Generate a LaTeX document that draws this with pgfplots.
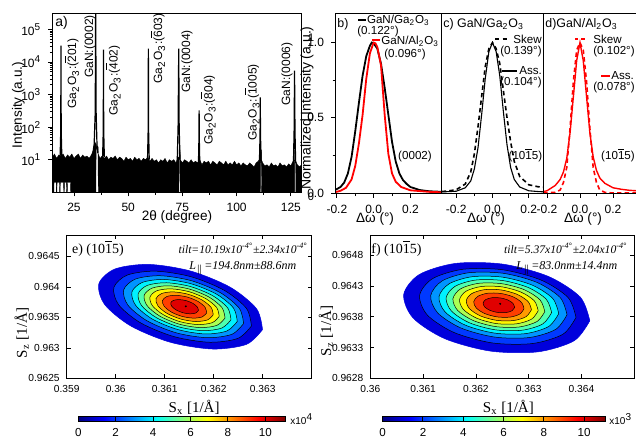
\documentclass[border=0pt]{standalone}
\usepackage{fontspec}
\setmainfont{Liberation Sans}
\newfontfamily\serif{Liberation Serif}
\usepackage{pgfplots}
\pgfplotsset{compat=1.18}
\usetikzlibrary{calc}

\newcommand\ob[1]{\ensuremath{\overline{\mbox{#1}}}}
\newcommand\fs[1]{\fontsize{#1}{#1}\selectfont}

% contour level colours (jet)
\definecolor{c1}{rgb}{0,0,0.862}
\definecolor{c2}{rgb}{0,0.224,1}
\definecolor{c3}{rgb}{0,0.586,1}
\definecolor{c4}{rgb}{0,0.948,1}
\definecolor{c5}{rgb}{0.31,1,0.69}
\definecolor{c6}{rgb}{0.672,1,0.328}
\definecolor{c7}{rgb}{1,0.966,0}
\definecolor{c8}{rgb}{1,0.604,0}
\definecolor{c9}{rgb}{1,0.242,0}
\definecolor{c10}{rgb}{0.88,0,0}

\pgfplotsset{
  org/.style={scale only axis, anchor=south west, axis on top,
    tick align=outside, xtick pos=bottom, ytick pos=left,
    major tick length=2pt, minor tick length=1.2pt,
    tick style={black, line width=0.4pt}, axis line style={line width=0.5pt},
    tick label style={font=\fs{6}}, label style={font=\fs{6.8}},
    /pgf/number format/assume math mode=true},
  mat/.style={scale only axis, anchor=south west,
    tick align=inside, major tick length=2pt,
    tick style={black, line width=0.3pt}, axis line style={line width=0.4pt},
    tick label style={font=\fs{5.1}}, label style={font=\serif\fs{7.5}},
    scaled ticks=false, colormap/jet, colorbar horizontal,
    point meta min=0, point meta max=11.05},
  cbar/.style={anchor=north west, scale only axis, height=2.4pt,
    xtick={0,2,4,6,8,10}, xticklabels={0,2,4,6,8,10},
    xticklabel pos=bottom, xtick pos=bottom, tick align=inside,
    major tick length=2.4pt, tick style={black, line width=0.5pt},
    tick label style={font=\fs{5.8}}, axis line style={line width=0.3pt}},
  cont/.style={draw=black, line width=0.25pt, smooth, fill=#1},
}

\begin{document}
\begin{tikzpicture}
\useasboundingbox (0,0) rectangle (318pt,218.5pt);

% ---------------- a) XRD scan
\begin{axis}[org, at={(26.15pt,122.35pt)}, width=124.7pt, height=89.15pt,
  xmin=15, xmax=130, ymode=log, ymin=1, ymax=3e5,
  xtick={25,50,75,100,125}, minor x tick num=1,
  ytick={10,100,1000,10000,100000},
  yticklabels={10\textsuperscript{1},10\textsuperscript{2},10\textsuperscript{3},10\textsuperscript{4},10\textsuperscript{5}},
  xlabel={2θ (degree)}, ylabel={Intensity (a.u.)},
  xlabel style={at={(axis description cs:0.5,-0.14)}, anchor=center},
  ylabel style={at={(axis description cs:-0.136,0.49)}, anchor=center}]
% noise floor
\addplot[fill=black, draw=black, line width=0.2pt] coordinates {
(15,12) (16,15) (17,11) (18,14) (19,13) (20,15) (21,11) (22,14) (23,12) (24,15)
(25,11) (26,13) (27,15) (28,11) (29,14) (30,12) (31,13) (32,11) (33,14) (34,20)
(34.6,35) (35.2,30) (36,16) (37,11) (38,13) (39,11) (40,13) (41,10) (42,12) (43,11)
(44,13) (45,10) (46,12) (47,11) (48,9) (49,12) (50,10) (51,11) (52,9) (53,12)
(54,10) (55,11) (56,9) (57,11) (58,10) (59,12) (60,9) (61,11) (62,9) (63,10)
(64,8) (65,10) (66,9) (67,11) (68,8) (69,10) (70,9) (71,10) (72,8) (73,12)
(74,10) (75,8) (76,10) (77,9) (78,8) (79,10) (80,8) (81,9) (82,8) (83,10)
(84,7) (85,9) (86,8) (87,9) (88,7) (89,9) (90,8) (91,7) (92,9) (93,8)
(94,7) (95,9) (96,7) (97,8) (98,7) (99,9) (100,7) (101,8) (102,6.5) (103,8)
(104,7) (105,6.5) (106,8) (107,7) (108,6) (109,8) (110,9) (111,12) (112,8) (113,6.5)
(114,7) (115,6) (116,8) (117,6.5) (118,7) (119,6) (120,8) (121,6.5) (122,7) (123,6)
(124,7.5) (125,6.5) (126,9) (127,10) (128,7) (129,6) (130,7)
(130,1) (127.3,1) (127.2,20) (126.8,20) (126.7,1) (111.5,1) (111.4,20) (111.0,20) (110.9,1)
(74.0,1) (73.9,20) (73.5,20) (73.4,1) (36.2,1) (36.1,25) (35.2,25) (35.1,1)
(23.5,1) (23.4,2) (22.0,2) (21.9,1) (21.6,1) (21.5,2) (20.6,2) (20.5,1) (20.3,1) (20.2,2)
(18.7,2) (18.6,1) (18.4,1) (18.3,2) (17.2,2) (17.1,1) (16.9,1) (16.8,2) (15.8,2) (15.7,1)
(15.5,1) (15.4,2) (15,2)};
% diffraction peaks
\addplot[black, line width=0.6pt] coordinates {(18.6,12) (18.9,80) (19.0,32000) (19.1,80) (19.4,12)};
\addplot[black, line width=0.6pt] coordinates {(33.6,14) (34.3,30) (34.8,300) (35.0,1e6) (35.2,300) (35.6,30) (36.0,16)};
\addplot[black, line width=0.6pt] coordinates {(38.2,12) (38.5,80) (38.6,24000) (38.7,80) (39.0,12)};
\addplot[black, line width=0.6pt] coordinates {(58.9,10) (59.2,80) (59.3,26000) (59.4,80) (59.7,10)};
\addplot[black, line width=0.6pt] coordinates {(72.6,9) (73.0,100) (73.3,26000) (73.5,100) (73.9,10)};
\addplot[black, line width=0.6pt] coordinates {(82.4,8) (82.6,40) (82.7,330) (82.8,40) (83.0,8)};
\addplot[black, line width=0.6pt] coordinates {(110.5,8) (110.8,60) (110.9,830) (111.0,60) (111.3,8)};
\addplot[black, line width=0.6pt] coordinates {(126.2,8) (126.5,80) (126.7,5500) (126.9,80) (127.2,8)};
\end{axis}

% ---------------- b) rocking curves (0002)
\begin{axis}[org, at={(167.5pt,121.6pt)}, width=53.35pt, height=89.9pt,
  xmin=-0.21, xmax=0.37, ymin=-0.005, ymax=1.19,
  xtick={-0.2,0,0.2}, xticklabels={-0.2,0.0,0.2}, minor x tick num=1,
  ytick={0,0.5,1}, yticklabels={0.0,0.5,1.0}, minor y tick num=1,
  xlabel={Δω (°)}, ylabel={Normalized Intensity (a.u.)},
  xlabel style={at={(axis description cs:0.375,-0.14)}, anchor=center},
  ylabel style={at={(axis description cs:-0.262,0.477)}, anchor=center, font=\fs{7}}]
\addplot[black, line width=0.9pt] coordinates {
(-0.21,0.02) (-0.18,0.04) (-0.16,0.07) (-0.14,0.13) (-0.12,0.24) (-0.10,0.41)
(-0.08,0.60) (-0.06,0.78) (-0.04,0.91) (-0.02,0.98) (-0.01,1.0) (0.0,0.995)
(0.02,0.96) (0.04,0.86) (0.06,0.70) (0.08,0.52) (0.10,0.34) (0.12,0.21)
(0.14,0.13) (0.16,0.085) (0.18,0.06) (0.2,0.04) (0.25,0.02) (0.3,0.012) (0.37,0.008)};
\addplot[red, line width=0.9pt] coordinates {
(-0.21,0.005) (-0.18,0.015) (-0.15,0.035) (-0.12,0.09) (-0.10,0.18) (-0.08,0.33)
(-0.06,0.52) (-0.04,0.76) (-0.02,0.93) (0.0,1.0) (0.01,0.995) (0.02,0.97)
(0.04,0.85) (0.06,0.52) (0.08,0.26) (0.10,0.13) (0.12,0.075) (0.15,0.04)
(0.2,0.018) (0.3,0.008) (0.37,0.005)};
\end{axis}

% ---------------- c) GaN/Ga2O3 (10-15)
\begin{axis}[org, at={(220.85pt,121.6pt)}, width=50.8pt, height=89.9pt,
  xmin=-0.28, xmax=0.28, ymin=-0.005, ymax=1.19,
  xtick={-0.2,0,0.2}, xticklabels={-0.2,0.0,0.2}, minor x tick num=1, ytick=\empty,
  xlabel={Δω (°)}, xlabel style={at={(axis description cs:0.436,-0.14)}, anchor=center}]
\addplot[black, line width=0.8pt, dash pattern=on 2.2pt off 1.6pt] coordinates {
(-0.28,0.01) (-0.25,0.013) (-0.2,0.022) (-0.15,0.06) (-0.12,0.14) (-0.10,0.26)
(-0.08,0.44) (-0.06,0.64) (-0.04,0.84) (-0.02,0.96) (0,1.0) (0.02,0.96)
(0.04,0.86) (0.06,0.68) (0.08,0.50) (0.10,0.34) (0.12,0.21) (0.15,0.11)
(0.2,0.055) (0.25,0.042) (0.28,0.038)};
\addplot[black, line width=0.55pt] coordinates {
(-0.28,0.008) (-0.25,0.009) (-0.2,0.012) (-0.15,0.035) (-0.12,0.08) (-0.10,0.16)
(-0.08,0.30) (-0.06,0.52) (-0.04,0.76) (-0.02,0.94) (0,1.0) (0.02,0.94)
(0.04,0.78) (0.06,0.54) (0.08,0.32) (0.10,0.17) (0.12,0.09) (0.15,0.04)
(0.2,0.015) (0.25,0.01) (0.28,0.008)};
\end{axis}

% ---------------- d) GaN/Al2O3 (10-15)
\begin{axis}[org, at={(271.65pt,121.6pt)}, width=48.05pt, height=89.9pt,
  xmin=-0.222, xmax=0.36, ymin=-0.005, ymax=1.19,
  xtick={-0.2,0,0.2}, xticklabels={-0.2,0.0,0.2}, minor x tick num=1, ytick=\empty,
  xlabel={Δω (°)}, xlabel style={at={(axis description cs:0.413,-0.14)}, anchor=center}]
\addplot[red, line width=0.8pt, dash pattern=on 2.2pt off 1.6pt] coordinates {
(-0.222,0.0) (-0.15,0.005) (-0.12,0.02) (-0.10,0.07) (-0.08,0.17) (-0.06,0.43)
(-0.04,0.74) (-0.02,0.95) (0,1.0) (0.02,0.95) (0.04,0.74) (0.06,0.43)
(0.08,0.17) (0.10,0.07) (0.12,0.02) (0.15,0.005) (0.2,0.0) (0.36,0.0)};
\addplot[red, line width=0.7pt] coordinates {
(-0.222,0.01) (-0.2,0.015) (-0.15,0.05) (-0.12,0.09) (-0.10,0.14) (-0.08,0.23)
(-0.06,0.40) (-0.04,0.64) (-0.02,0.88) (0,1.0) (0.02,0.88) (0.04,0.64)
(0.06,0.40) (0.08,0.24) (0.10,0.15) (0.12,0.10) (0.15,0.065) (0.2,0.035)
(0.25,0.025) (0.3,0.018) (0.36,0.014)};
\end{axis}

% ---------------- e) RSM GaN/Ga2O3
\begin{axis}[mat, at={(33.35pt,29.35pt)}, width=122.5pt, height=71.65pt,
  xmin=0.359, xmax=0.364, ymin=0.9625, ymax=0.96485,
  xtick={0.359,0.36,0.361,0.362,0.363}, xticklabels={0.359,0.36,0.361,0.362,0.363},
  ytick={0.9625,0.963,0.9635,0.964,0.9645}, yticklabels={0.9625,0.963,0.9635,0.964,0.9645},
  xlabel={S\textsubscript{x} [1/Å]}, ylabel={S\textsubscript{z} [1/Å]},
  xlabel style={at={(axis description cs:0.52,-0.2)}, anchor=center},
  ylabel style={at={(axis description cs:-0.184,0.316)}, anchor=center},
  colorbar style={cbar, at={($(parent axis.south west)+(5.8pt,-10.55pt)$)}, width=103.35pt}]
\addplot[cont=c1, draw=c1] coordinates {(0.362996,0.963298) (0.362875,0.963640) (0.362340,0.963992) (0.361533,0.964258) (0.360671,0.964368) (0.359984,0.964292) (0.359656,0.964050) (0.359777,0.963708) (0.360312,0.963356) (0.361119,0.963090) (0.361981,0.962980) (0.362668,0.963056) (0.362996,0.963298)};
\addplot[cont=c2] coordinates {(0.362770,0.963358) (0.362669,0.963646) (0.362219,0.963941) (0.361540,0.964165) (0.360815,0.964257) (0.360237,0.964193) (0.359962,0.963990) (0.360063,0.963702) (0.360513,0.963407) (0.361192,0.963183) (0.361917,0.963091) (0.362495,0.963155) (0.362770,0.963358)};
\addplot[cont=c3] coordinates {(0.362610,0.963398) (0.362522,0.963649) (0.362129,0.963907) (0.361538,0.964102) (0.360906,0.964182) (0.360402,0.964127) (0.360162,0.963950) (0.360250,0.963699) (0.360643,0.963441) (0.361234,0.963246) (0.361866,0.963166) (0.362370,0.963221) (0.362610,0.963398)};
\addplot[cont=c4] coordinates {(0.362481,0.963432) (0.362404,0.963652) (0.362059,0.963879) (0.361539,0.964050) (0.360984,0.964121) (0.360542,0.964072) (0.360331,0.963916) (0.360408,0.963696) (0.360753,0.963469) (0.361273,0.963298) (0.361828,0.963227) (0.362270,0.963276) (0.362481,0.963432)};
\addplot[cont=c5] coordinates {(0.362353,0.963461) (0.362285,0.963655) (0.361981,0.963854) (0.361524,0.964005) (0.361034,0.964067) (0.360645,0.964024) (0.360459,0.963887) (0.360527,0.963693) (0.360831,0.963494) (0.361288,0.963343) (0.361778,0.963281) (0.362167,0.963324) (0.362353,0.963461)};
\addplot[cont=c6] coordinates {(0.362231,0.963488) (0.362171,0.963657) (0.361907,0.963831) (0.361508,0.963962) (0.361082,0.964017) (0.360743,0.963979) (0.360581,0.963860) (0.360641,0.963691) (0.360905,0.963517) (0.361304,0.963386) (0.361730,0.963331) (0.362069,0.963369) (0.362231,0.963488)};
\addplot[cont=c7] coordinates {(0.362112,0.963515) (0.362061,0.963660) (0.361835,0.963808) (0.361494,0.963921) (0.361129,0.963967) (0.360838,0.963935) (0.360700,0.963833) (0.360751,0.963688) (0.360977,0.963540) (0.361318,0.963427) (0.361683,0.963381) (0.361974,0.963413) (0.362112,0.963515)};
\addplot[cont=c8] coordinates {(0.361990,0.963542) (0.361948,0.963662) (0.361761,0.963785) (0.361479,0.963878) (0.361177,0.963917) (0.360936,0.963890) (0.360822,0.963806) (0.360864,0.963686) (0.361051,0.963563) (0.361334,0.963470) (0.361635,0.963431) (0.361876,0.963458) (0.361990,0.963542)};
\addplot[cont=c9] coordinates {(0.361857,0.963573) (0.361824,0.963665) (0.361680,0.963760) (0.361462,0.963832) (0.361229,0.963861) (0.361044,0.963841) (0.360955,0.963775) (0.360988,0.963683) (0.361132,0.963588) (0.361350,0.963516) (0.361583,0.963487) (0.361768,0.963507) (0.361857,0.963573)};
\addplot[cont=c10] coordinates {(0.361688,0.963610) (0.361668,0.963668) (0.361577,0.963728) (0.361441,0.963773) (0.361295,0.963791) (0.361179,0.963778) (0.361124,0.963738) (0.361144,0.963680) (0.361235,0.963620) (0.361371,0.963575) (0.361517,0.963557) (0.361633,0.963570) (0.361688,0.963610)};
\addplot[only marks, mark=*, mark size=0.25pt, black] coordinates {(0.361430,0.963680)};
\end{axis}

% ---------------- f) RSM GaN/Al2O3
\begin{axis}[mat, at={(185.15pt,29.35pt)}, width=132pt, height=71.65pt,
  xmin=0.36, xmax=0.365, ymin=0.9628, ymax=0.96513,
  xtick={0.36,0.361,0.362,0.363,0.364}, xticklabels={0.36,0.361,0.362,0.363,0.364},
  ytick={0.9628,0.9633,0.9638,0.9643,0.9648}, yticklabels={0.9628,0.9633,0.9638,0.9643,0.9648},
  xlabel={S\textsubscript{x} [1/Å]}, ylabel={S\textsubscript{z} [1/Å]},
  xlabel style={at={(axis description cs:0.523,-0.2)}, anchor=center},
  ylabel style={at={(axis description cs:-0.168,0.33)}, anchor=center},
  colorbar style={cbar, at={($(parent axis.south west)+(6.2pt,-10.55pt)$)}, width=111.3pt}]
\addplot[cont=c1, draw=c1] coordinates {(0.364157,0.963736) (0.363978,0.964119) (0.363376,0.964455) (0.362511,0.964656) (0.361614,0.964668) (0.360928,0.964487) (0.360633,0.964162) (0.360812,0.963779) (0.361414,0.963443) (0.362279,0.963242) (0.363176,0.963230) (0.363862,0.963411) (0.364157,0.963736)};
\addplot[cont=c2] coordinates {(0.363896,0.963790) (0.363747,0.964112) (0.363240,0.964395) (0.362512,0.964564) (0.361759,0.964573) (0.361181,0.964421) (0.360934,0.964148) (0.361083,0.963826) (0.361590,0.963543) (0.362318,0.963374) (0.363071,0.963365) (0.363649,0.963517) (0.363896,0.963790)};
\addplot[cont=c3] coordinates {(0.363726,0.963833) (0.363596,0.964113) (0.363154,0.964360) (0.362520,0.964507) (0.361863,0.964516) (0.361359,0.964383) (0.361144,0.964145) (0.361274,0.963865) (0.361716,0.963618) (0.362350,0.963471) (0.363007,0.963462) (0.363511,0.963595) (0.363726,0.963833)};
\addplot[cont=c4] coordinates {(0.363569,0.963852) (0.363455,0.964098) (0.363067,0.964315) (0.362510,0.964444) (0.361932,0.964452) (0.361490,0.964335) (0.361301,0.964126) (0.361415,0.963880) (0.361803,0.963663) (0.362360,0.963534) (0.362938,0.963526) (0.363380,0.963643) (0.363569,0.963852)};
\addplot[cont=c5] coordinates {(0.363434,0.963869) (0.363333,0.964085) (0.362991,0.964276) (0.362501,0.964390) (0.361992,0.964397) (0.361603,0.964294) (0.361436,0.964110) (0.361537,0.963893) (0.361879,0.963702) (0.362369,0.963588) (0.362878,0.963582) (0.363267,0.963684) (0.363434,0.963869)};
\addplot[cont=c6] coordinates {(0.363305,0.963884) (0.363217,0.964073) (0.362920,0.964239) (0.362492,0.964338) (0.362049,0.964344) (0.361710,0.964255) (0.361565,0.964094) (0.361653,0.963905) (0.361950,0.963739) (0.362378,0.963640) (0.362821,0.963634) (0.363160,0.963724) (0.363305,0.963884)};
\addplot[cont=c7] coordinates {(0.363180,0.963899) (0.363105,0.964061) (0.362850,0.964203) (0.362484,0.964288) (0.362105,0.964293) (0.361814,0.964216) (0.361690,0.964079) (0.361765,0.963917) (0.362020,0.963775) (0.362386,0.963690) (0.362765,0.963685) (0.363056,0.963762) (0.363180,0.963899)};
\addplot[cont=c8] coordinates {(0.363052,0.963915) (0.362989,0.964048) (0.362778,0.964166) (0.362476,0.964237) (0.362162,0.964241) (0.361921,0.964177) (0.361818,0.964063) (0.361881,0.963930) (0.362092,0.963812) (0.362394,0.963742) (0.362708,0.963738) (0.362949,0.963801) (0.363052,0.963915)};
\addplot[cont=c9] coordinates {(0.362911,0.963932) (0.362863,0.964035) (0.362700,0.964126) (0.362466,0.964180) (0.362224,0.964183) (0.362039,0.964134) (0.361959,0.964046) (0.362007,0.963943) (0.362170,0.963852) (0.362404,0.963798) (0.362646,0.963795) (0.362831,0.963844) (0.362911,0.963932)};
\addplot[cont=c10] coordinates {(0.362733,0.963953) (0.362703,0.964018) (0.362601,0.964075) (0.362455,0.964108) (0.362303,0.964110) (0.362187,0.964080) (0.362137,0.964025) (0.362167,0.963960) (0.362269,0.963903) (0.362415,0.963870) (0.362567,0.963868) (0.362683,0.963898) (0.362733,0.963953)};
\addplot[only marks, mark=*, mark size=0.25pt, black] coordinates {(0.362460,0.964010)};
\end{axis}

% ---------------- annotations, panel a
\begin{scope}[every node/.style={font=\fs{6}, inner sep=0pt}]
\node[font=\fs{7}, anchor=west] at (27.5pt,207pt) {a)};
\node[rotate=90] at (35.75pt,181.75pt) {Ga\textsubscript{2}O\textsubscript{3}:(\ob{2}01)};
\node[rotate=90] at (45pt,195.25pt) {GaN:(0002)};
\node[rotate=90] at (56.5pt,178.25pt) {Ga\textsubscript{2}O\textsubscript{3}:(\ob{4}02)};
\node[rotate=90] at (78.75pt,194.25pt) {Ga\textsubscript{2}O\textsubscript{3}:(\ob{6}03)};
\node[rotate=90] at (93.5pt,187.75pt) {GaN:(0004)};
\node[rotate=90] at (104pt,163.5pt) {Ga\textsubscript{2}O\textsubscript{3}:(\ob{8}04)};
\node[rotate=90] at (126pt,167.25pt) {Ga\textsubscript{2}O\textsubscript{3}:(\ob{1}005)};
\node[rotate=90] at (143.5pt,181.5pt) {GaN:(0006)};
\node[font=\fs{5.5}] at (155.6pt,199.5pt) {1};
\node[font=\fs{5.5}] at (155.4pt,160pt) {0};
\node[font=\fs{5.5}] at (155.5pt,120pt) {0};
\end{scope}

% ---------------- annotations, panels b-d
\begin{scope}[every node/.style={font=\fs{5.8}, inner sep=0pt}]
\node[font=\fs{6.2}, anchor=west] at (168.5pt,206.5pt) {b)};
\draw[black, line width=0.9pt] (179pt,208.5pt) -- (183pt,208.5pt);
\node[anchor=west] at (183.3pt,208.5pt) {GaN/Ga\textsubscript{2}O\textsubscript{3}};
\node at (189pt,202.5pt) {(0.122°)};
\draw[red, line width=0.9pt] (186pt,198.5pt) -- (190pt,198.5pt);
\node[anchor=west] at (190.5pt,198pt) {GaN/Al\textsubscript{2}O\textsubscript{3}};
\node at (202.5pt,191pt) {(0.096°)};
\node at (207.5pt,140pt) {(0002)};

\node[font=\fs{6.2}, anchor=west] at (221.5pt,206.5pt) {c) GaN/Ga\textsubscript{2}O\textsubscript{3}};
\draw[black, line width=0.8pt, dash pattern=on 2.2pt off 1.6pt] (247.5pt,199pt) -- (255pt,199pt);
\node[anchor=west] at (256.5pt,199pt) {Skew};
\node at (260.5pt,192.5pt) {(0.139°)};
\draw[black, line width=0.8pt] (251pt,183pt) -- (258.5pt,183pt);
\node[anchor=west] at (259.5pt,183pt) {Ass.};
\node at (260.5pt,177pt) {(0.104°)};
\node at (262.7pt,141pt) {(10\ob{1}5)};

\node[font=\fs{6.2}, anchor=west] at (272.5pt,206.5pt) {d)GaN/Al\textsubscript{2}O\textsubscript{3}};
\draw[red, line width=0.8pt, dash pattern=on 1.6pt off 1.6pt] (287.5pt,199pt) -- (293.5pt,199pt);
\node[anchor=west] at (296.5pt,199pt) {Skew};
\node at (307pt,192.5pt) {(0.102°)};
\draw[red, line width=0.8pt] (300.5pt,180.5pt) -- (305pt,180.5pt);
\node[anchor=west] at (305.5pt,180.5pt) {Ass.};
\node at (307pt,174.5pt) {(0.078°)};
\node at (309pt,141pt) {(10\ob{1}5)};
\end{scope}

% ---------------- annotations, panels e-f
\begin{scope}[every node/.style={inner sep=0pt}]
\node[font=\serif\fs{7}, anchor=west] at (35.85pt,94.5pt) {e) (10\ob{1}5)};
\node[font=\serif\itshape\fs{5.8}, anchor=east] at (154pt,94.5pt) {tilt=10.19x10\textsuperscript{-4°}±2.34x10\textsuperscript{-4°}};
\node[font=\serif\itshape\fs{6}, anchor=east] at (148.35pt,84.5pt) {L\textsubscript{$\parallel$}=194.8nm±88.6nm};
\node[font=\fs{5}, anchor=west] at (145pt,9pt) {x10\textsuperscript{4}};

\node[font=\serif\fs{7}, anchor=west] at (185.5pt,94.5pt) {f) (10\ob{1}5)};
\node[font=\serif\itshape\fs{5.8}, anchor=east] at (313.85pt,94.5pt) {tilt=5.37x10\textsuperscript{-4°}±2.04x10\textsuperscript{-4°}};
\node[font=\serif\itshape\fs{6}, anchor=east] at (308.85pt,84.5pt) {L\textsubscript{$\parallel$}=83.0nm±14.4nm};
\node[font=\fs{5}, anchor=west] at (304.5pt,9pt) {x10\textsuperscript{3}};
\end{scope}
\end{tikzpicture}
\end{document}
